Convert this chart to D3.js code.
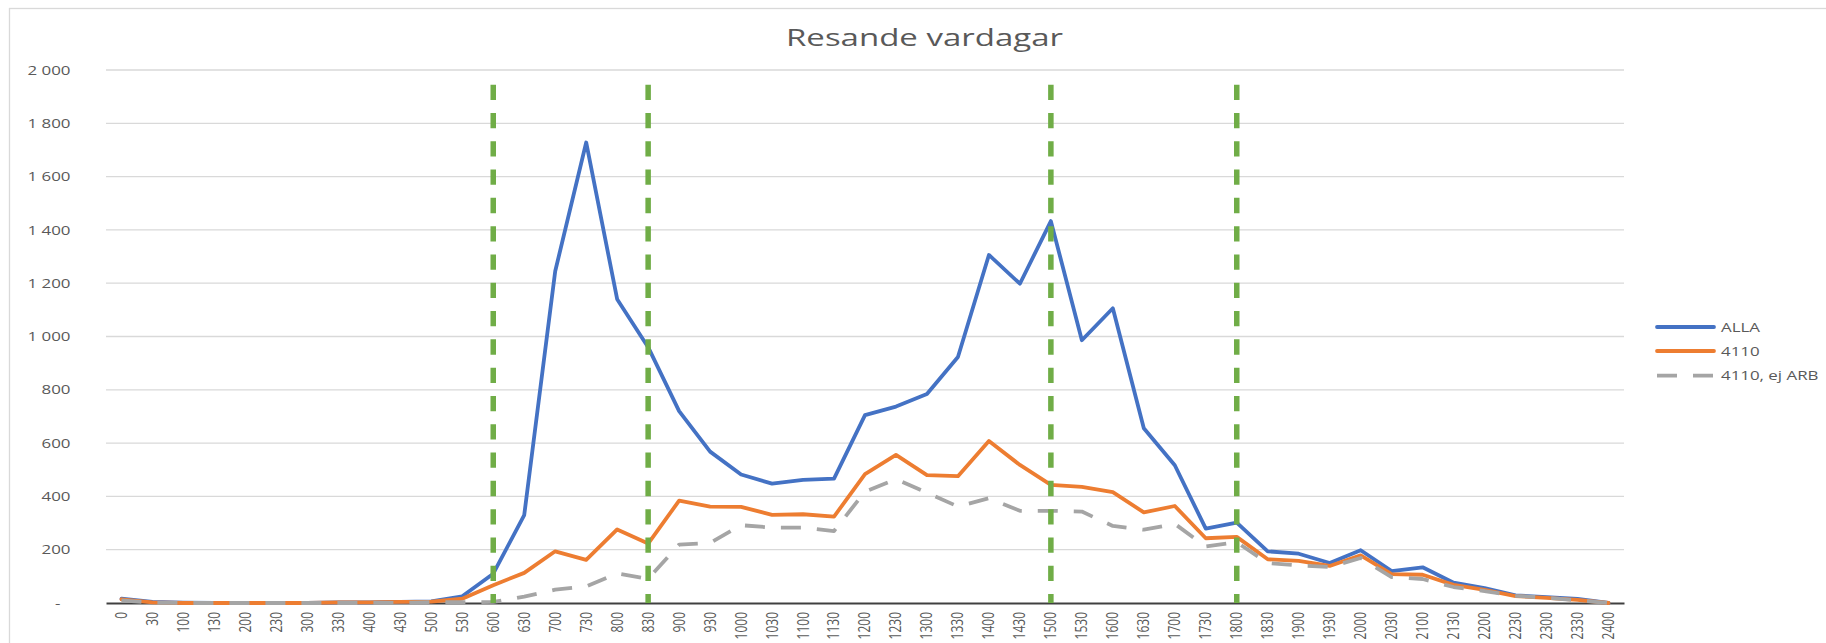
<!DOCTYPE html>
<html>
<head>
<meta charset="utf-8">
<script src="https://cdn.jsdelivr.net/npm/d3@7"></script>
<style>
  html, body { margin: 0; padding: 0; background: #fff; }
  svg { display: block; }
  text { font-family: "Open Sans", "Noto Sans", sans-serif; fill: #595959; }
</style>
</head>
<body>
<svg id="chart" width="1826" height="643"></svg>
<script>
// Half-hour time slots on weekdays
const categories = ["0","30","100","130","200","230","300","330","400","430","500","530",
  "600","630","700","730","800","830","900","930","1000","1030","1100","1130",
  "1200","1230","1300","1330","1400","1430","1500","1530","1600","1630","1700","1730",
  "1800","1830","1900","1930","2000","2030","2100","2130","2200","2230","2300","2330","2400"];

// Travellers per slot
const alla = [16, 4, 1, 0, 0, 0, 0, 2, 2, 4, 6, 25,
  110, 330, 1245, 1728, 1140, 960, 720, 568, 482, 448, 462, 467,
  705, 737, 784, 923, 1306, 1198, 1433, 986, 1106, 656, 517, 279,
  302, 194, 185, 150, 198, 120, 134, 76, 56, 29, 22, 15, 0];

const s4110 = [14, 2, 0, 0, 0, 0, 0, 2, 2, 4, 5, 16,
  67, 113, 194, 162, 276, 223, 384, 362, 361, 331, 333, 324,
  484, 556, 480, 476, 608, 518, 443, 436, 416, 340, 364, 243,
  248, 164, 158, 139, 179, 108, 106, 68, 49, 26, 19, 12, 0];

const s4110EjArb = [10, 1, 0, 0, 0, 0, 0, 0, 0, 1, 3, 3,
  4, 24, 50, 62, 111, 91, 219, 225, 292, 283, 283, 270,
  418, 465, 414, 362, 393, 346, 346, 343, 289, 275, 297, 212,
  228, 150, 141, 135, 169, 97, 90, 60, 45, 27, 20, 10, 0];

const seriesNames = ["ALLA", "4110", "4110, ej ARB"];
const yTicks = [0, 200, 400, 600, 800, 1000, 1200, 1400, 1600, 1800, 2000];

// Vertical reference markers
const markerSlots = ["600", "830", "1500", "1800"];
const markerTop = 1945;

const chartTitle = "Resande vardagar";

// ---- layout ----
const svg = d3.select("#chart");
const W = 1826, H = 643;
const plot = { left: 106, right: 1624, top: 70, bottom: 603 };
const sx = 1.3; // horizontal text stretch

const colors = { alla: "#4472C4", s4110: "#ED7D31", ej: "#A5A5A5", marker: "#70AD47" };

// chart frame
svg.append("rect")
  .attr("x", 9.5).attr("y", 8.5)
  .attr("width", W + 20).attr("height", H + 20)
  .attr("fill", "#fff").attr("stroke", "#D9D9D9").attr("stroke-width", 1.3);

const x = d3.scaleBand().domain(categories).range([plot.left, plot.right]).padding(0);
const cx = c => x(c) + x.bandwidth() / 2;
const y = d3.scaleLinear().domain([0, 2000]).range([plot.bottom, plot.top]);

// gridlines
svg.append("g")
  .selectAll("line")
  .data(yTicks.filter(v => v > 0))
  .join("line")
  .attr("x1", plot.left).attr("x2", plot.right)
  .attr("y1", d => y(d)).attr("y2", d => y(d))
  .attr("stroke", "#D9D9D9").attr("stroke-width", 1.3);

// y axis labels
const locale = d3.formatLocale({ decimal: ",", thousands: "\u00a0", grouping: [3], currency: ["", " kr"] });
const fmt = locale.format(",d");
const yAxis = svg.append("g")
  .attr("transform", `translate(70.5,0)`)
  .call(d3.axisLeft(y).tickValues(yTicks).tickSize(0).tickPadding(0)
    .tickFormat(d => d === 0 ? "-" : fmt(d)));
yAxis.select(".domain").remove();
yAxis.selectAll("text")
  .attr("font-family", "\"Open Sans\", sans-serif")
  .attr("font-size", 13)
  .attr("fill", "#595959")
  .attr("x", d => d === 0 ? -10 / sx : 0)
  .attr("transform", `scale(${sx},1)`);

// x axis
const xAxis = svg.append("g")
  .attr("transform", `translate(0,${plot.bottom})`)
  .call(d3.axisBottom(x).tickSize(0).tickPadding(0).tickSizeOuter(0));
xAxis.select(".domain").attr("stroke", "#404040").attr("stroke-width", 2);
xAxis.selectAll("text")
  .attr("font-family", "\"Open Sans\", sans-serif")
  .attr("font-size", 12)
  .attr("fill", "#595959")
  .attr("x", 0).attr("y", 0)
  .attr("dy", "0.35em")
  .attr("text-anchor", "end")
  .attr("transform", `translate(0,9) scale(${sx},1) rotate(-90)`);

// series, drawn in legend order (last one on top)
const line = d3.line()
  .x((d, i) => cx(categories[i]))
  .y(d => y(d));

const series = [
  { name: seriesNames[0], values: alla, color: colors.alla, dash: null },
  { name: seriesNames[1], values: s4110, color: colors.s4110, dash: null },
  { name: seriesNames[2], values: s4110EjArb, color: colors.ej, dash: "20,16" }
];

svg.append("g")
  .selectAll("path")
  .data(series)
  .join("path")
  .attr("d", d => line(d.values))
  .attr("fill", "none")
  .attr("stroke", d => d.color)
  .attr("stroke-width", 3.8)
  .attr("stroke-linejoin", "round")
  .attr("stroke-linecap", d => d.dash ? "butt" : "round")
  .attr("stroke-dasharray", d => d.dash);

// markers
svg.append("g")
  .selectAll("line")
  .data(markerSlots)
  .join("line")
  .attr("x1", d => cx(d)).attr("x2", d => cx(d))
  .attr("y1", y(markerTop)).attr("y2", y(0))
  .attr("stroke", colors.marker)
  .attr("stroke-width", 5.5)
  .attr("stroke-dasharray", "15.3,13");

// title
svg.append("text")
  .attr("x", 924.5).attr("y", 45.7)
  .attr("text-anchor", "middle")
  .attr("font-size", 24)
  .attr("textLength", 277)
  .attr("lengthAdjust", "spacingAndGlyphs")
  .text(chartTitle);

// legend
const legend = svg.append("g");
const legendY = [327, 351, 375.6];
series.forEach((s, i) => {
  legend.append("line")
    .attr("x1", 1657).attr("x2", 1714)
    .attr("y1", legendY[i]).attr("y2", legendY[i])
    .attr("stroke", s.color)
    .attr("stroke-width", 3.8)
    .attr("stroke-linecap", s.dash ? "butt" : "round")
    .attr("stroke-dasharray", s.dash);
  legend.append("text")
    .attr("transform", `translate(1721,${legendY[i]}) scale(${sx},1)`)
    .attr("dy", "0.35em")
    .attr("font-size", 13)
    .text(s.name);
});
</script>
</body>
</html>
